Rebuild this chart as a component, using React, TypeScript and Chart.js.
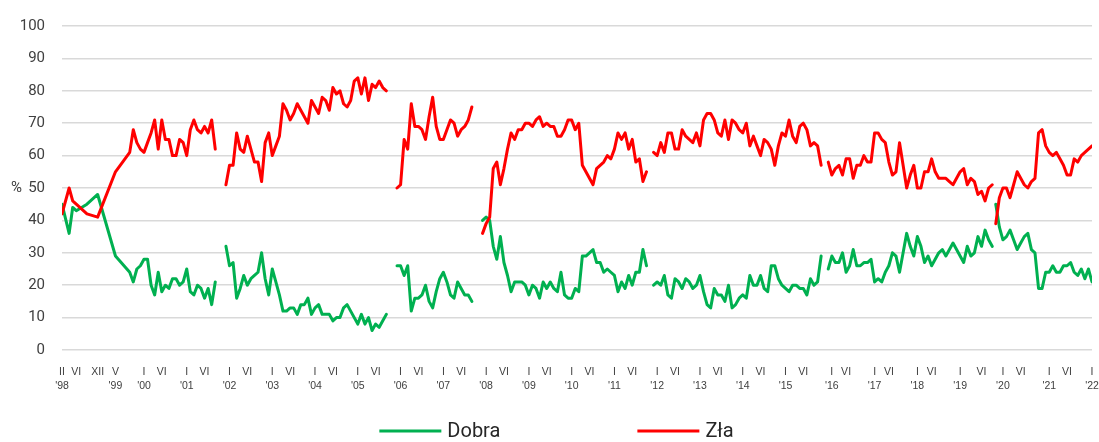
import { useEffect, useRef } from 'react';
import { Chart, registerables } from 'chart.js';

Chart.register(...registerables);

// Sparse surveys 1998–1999 (position index: II '98 = 0, one step per month)
const earlySlots = [0, 2, 3, 4, 7, 10, 15];
const earlyDobra = [45, 36, 44, 43, 45, 48, 29];
const earlyZla = [42, 50, 46, 45, 42, 41, 55];

// Monthly segments (first position of each run of consecutive months)
const segmentStarts = [19, 46, 94, 118, 166, 215, 262];

const dobra1999 = [24, 21, 25, 26, 28, 28, 20, 17, 24, 18, 20, 19, 22, 22, 20, 21, 25, 18, 17, 20, 19, 16, 19, 14, 21];
const dobra2001 = [32, 26, 27, 16, 19, 23, 20, 22, 23, 24, 30, 22, 17, 25, 21, 17, 12, 12, 13, 13, 11, 14, 14, 16, 11, 13, 14, 11, 11, 11, 9, 10, 10, 13, 14, 12, 10, 8, 11, 8, 10, 6, 8, 7, 9, 11];
const dobra2005 = [26, 26, 23, 26, 12, 16, 16, 17, 20, 15, 13, 18, 22, 24, 21, 17, 16, 21, 19, 17, 17, 15];
const dobra2007 = [40, 41, 40, 32, 28, 35, 27, 23, 18, 21, 21, 21, 20, 17, 20, 19, 16, 21, 19, 21, 19, 18, 24, 17, 16, 16, 19, 18, 29, 29, 30, 31, 27, 27, 24, 25, 24, 23, 18, 21, 19, 23, 20, 24, 24, 31, 26];
const dobra2011 = [20, 21, 20, 23, 17, 16, 22, 21, 19, 22, 21, 19, 20, 23, 18, 14, 13, 19, 17, 17, 15, 20, 13, 14, 16, 17, 16, 23, 20, 20, 23, 19, 18, 26, 26, 22, 20, 19, 18, 20, 20, 19, 19, 17, 22, 20, 21, 29];
const dobra2015 = [25, 29, 27, 27, 30, 24, 26, 31, 26, 26, 27, 27, 28, 21, 22, 21, 24, 26, 30, 29, 24, 30, 36, 32, 29, 35, 32, 27, 29, 26, 28, 30, 31, 29, 31, 33, 31, 29, 27, 32, 29, 30, 35, 32, 37, 34, 32];
const dobra2019 = [45, 38, 34, 35, 37, 34, 31, 33, 35, 36, 31, 30, 19, 19, 24, 24, 26, 24, 24, 26, 26, 27, 24, 23, 25, 22, 25, 21];

const zla1999 = [61, 68, 64, 62, 61, 64, 67, 71, 62, 71, 65, 65, 60, 60, 65, 64, 60, 68, 71, 68, 67, 69, 67, 71, 62];
const zla2001 = [51, 57, 57, 67, 62, 61, 66, 62, 58, 58, 52, 64, 67, 60, 63, 66, 76, 74, 71, 73, 76, 74, 72, 70, 77, 75, 73, 78, 77, 74, 81, 79, 80, 76, 75, 77, 83, 84, 79, 84, 77, 82, 81, 83, 81, 80];
const zla2005 = [50, 51, 65, 62, 76, 69, 69, 68, 65, 72, 78, 69, 65, 65, 68, 71, 70, 66, 68, 69, 71, 75];
const zla2007 = [36, 39, 41, 56, 58, 51, 56, 62, 67, 65, 68, 68, 70, 70, 69, 71, 72, 69, 70, 69, 69, 66, 66, 68, 71, 71, 68, 70, 57, 55, 53, 51, 56, 57, 58, 60, 59, 62, 67, 65, 67, 62, 65, 58, 59, 52, 55];
const zla2011 = [61, 60, 64, 61, 67, 67, 62, 62, 68, 66, 65, 64, 67, 63, 71, 73, 73, 71, 67, 66, 71, 65, 71, 70, 68, 67, 70, 63, 66, 63, 60, 65, 64, 62, 57, 63, 67, 66, 71, 66, 64, 69, 70, 68, 63, 64, 63, 57];
const zla2015 = [58, 54, 56, 57, 54, 59, 59, 53, 57, 57, 60, 58, 58, 67, 67, 65, 64, 58, 54, 55, 64, 57, 50, 54, 57, 50, 50, 55, 55, 59, 55, 53, 53, 53, 52, 51, 53, 55, 56, 51, 53, 52, 48, 49, 46, 50, 51];
const zla2019 = [39, 47, 50, 50, 47, 51, 55, 53, 51, 50, 52, 53, 67, 68, 63, 61, 60, 61, 59, 57, 54, 54, 59, 58, 60, 61, 62, 63];

const dobraSegments = [dobra1999, dobra2001, dobra2005, dobra2007, dobra2011, dobra2015, dobra2019];
const zlaSegments = [zla1999, zla2001, zla2005, zla2007, zla2011, zla2015, zla2019];

// Axis ticks
const tickSlots = [0, 4, 10, 15, 23, 28, 35, 40, 47, 52, 59, 64, 71, 76, 83, 88, 95, 100, 107, 112, 119, 124, 131, 136, 143, 148, 155, 160, 167, 172, 179, 184, 191, 196, 203, 208, 216, 220, 228, 232, 240, 244, 252, 258, 264, 269, 277, 282, 289];
const tickMonths = ['II', 'VI', 'XII', 'V', 'I', 'VI', 'I', 'VI', 'I', 'VI', 'I', 'VI', 'I', 'VI', 'I', 'VI', 'I', 'VI', 'I', 'VI', 'I', 'VI', 'I', 'VI', 'I', 'VI', 'I', 'VI', 'I', 'VI', 'I', 'VI', 'I', 'VI', 'I', 'VI', 'I', 'VI', 'I', 'VI', 'I', 'VI', 'I', 'VI', 'I', 'VI', 'I', 'VI', 'I'];
const tickYears = ["'98", '', '', "'99", "'00", '', "'01", '', "'02", '', "'03", '', "'04", '', "'05", '', "'06", '', "'07", '', "'08", '', "'09", '', "'10", '', "'11", '', "'12", '', "'13", '', "'14", '', "'15", '', "'16", '', "'17", '', "'18", '', "'19", '', "'20", '', "'21", '', "'22"];
const yTickValues = [0, 10, 20, 30, 40, 50, 60, 70, 80, 90, 100];

const GREEN = '#00b050';
const RED = '#ff0000';
const legendItems = [
  { label: 'Dobra', color: GREEN },
  { label: 'Zła', color: RED },
];

function buildPoints(early: number[], segs: number[][]) {
  const pts: { x: number; y: number | null }[] = early.map((v, i) => ({ x: earlySlots[i], y: v }));
  segs.forEach((seg, s) => {
    const start = segmentStarts[s];
    if (s > 0) pts.push({ x: start - 0.5, y: null });
    seg.forEach((v, i) => pts.push({ x: start + i, y: v }));
  });
  return pts;
}

const extrasPlugin = {
  id: 'extras',
  afterDraw(chart: any) {
    const { ctx } = chart;
    ctx.save();
    const y50 = chart.scales.y.getPixelForValue(50);
    ctx.font = '15px Roboto';
    ctx.fillStyle = '#404040';
    ctx.textAlign = 'left';
    ctx.textBaseline = 'middle';
    ctx.fillText('%', 11, y50);

    ctx.font = '20px Roboto';
    const lineLen = 62;
    const gap = 6;
    const itemGap = 137;
    const widths = legendItems.map((it) => ctx.measureText(it.label).width);
    const total = widths.reduce((s, w) => s + lineLen + gap + w, 0) + itemGap * (legendItems.length - 1);
    let x = (chart.width - total) / 2 + 7;
    const y = 431;
    legendItems.forEach((it, i) => {
      ctx.strokeStyle = it.color;
      ctx.lineWidth = 3;
      ctx.beginPath();
      ctx.moveTo(x, y);
      ctx.lineTo(x + lineLen, y);
      ctx.stroke();
      ctx.fillStyle = '#262626';
      ctx.fillText(it.label, x + lineLen + gap, y + 1);
      x += lineLen + gap + widths[i] + itemGap;
    });
    ctx.restore();
  },
};

export default function App() {
  const ref = useRef<HTMLCanvasElement | null>(null);

  useEffect(() => {
    if (!ref.current) return;
    const chart = new Chart(ref.current, {
      type: 'line',
      data: {
        datasets: [
          {
            label: 'Dobra',
            data: buildPoints(earlyDobra, dobraSegments) as any,
            borderColor: GREEN,
            backgroundColor: GREEN,
            borderWidth: 3,
            pointRadius: 0,
            tension: 0,
            borderJoinStyle: 'round',
            borderCapStyle: 'round',
            order: 1,
          },
          {
            label: 'Zła',
            data: buildPoints(earlyZla, zlaSegments) as any,
            borderColor: RED,
            backgroundColor: RED,
            borderWidth: 3,
            pointRadius: 0,
            tension: 0,
            borderJoinStyle: 'round',
            borderCapStyle: 'round',
            order: 0,
          },
        ],
      },
      options: {
        animation: false,
        responsive: false,
        devicePixelRatio: 1,
        spanGaps: false,
        layout: { padding: { top: 22, bottom: 42, left: 0, right: 7 } },
        plugins: {
          legend: { display: false },
          tooltip: { enabled: false },
        },
        scales: {
          x: {
            type: 'linear',
            min: 0,
            max: 289,
            grid: { display: false },
            border: { display: false },
            afterBuildTicks: (scale: any) => {
              scale.ticks = tickSlots.map((v) => ({ value: v }));
            },
            afterFit: (scale: any) => {
              scale.paddingLeft = 0;
              scale.paddingRight = 0;
              scale.height = 50;
            },
            ticks: {
              autoSkip: false,
              maxRotation: 0,
              minRotation: 0,
              padding: 8,
              color: '#404040',
              font: {
                family: "'Liberation Sans Narrow', 'Arial Narrow', 'Liberation Sans', sans-serif",
                size: 10.5,
                lineHeight: 1.25,
              },
              callback: (value: any) => {
                const i = tickSlots.indexOf(Number(value));
                return i >= 0 ? [tickMonths[i], tickYears[i]] : '';
              },
            },
          },
          y: {
            min: 0,
            max: 100,
            afterBuildTicks: (scale: any) => {
              scale.ticks = yTickValues.map((v) => ({ value: v }));
            },
            afterFit: (scale: any) => {
              scale.width = 62;
            },
            grid: { color: '#d9d9d9', lineWidth: 1.6, drawTicks: false },
            border: { display: false },
            ticks: {
              padding: 17,
              color: '#404040',
              font: { family: 'Roboto', size: 15 },
            },
          },
        },
      },
      plugins: [extrasPlugin],
    });
    return () => chart.destroy();
  }, []);

  return (
    <div style={{ position: 'fixed', left: 0, top: 0, width: 1099, height: 442, background: '#fff' }}>
      <canvas ref={ref} width={1099} height={442} style={{ display: 'block', width: 1099, height: 442 }} />
    </div>
  );
}
